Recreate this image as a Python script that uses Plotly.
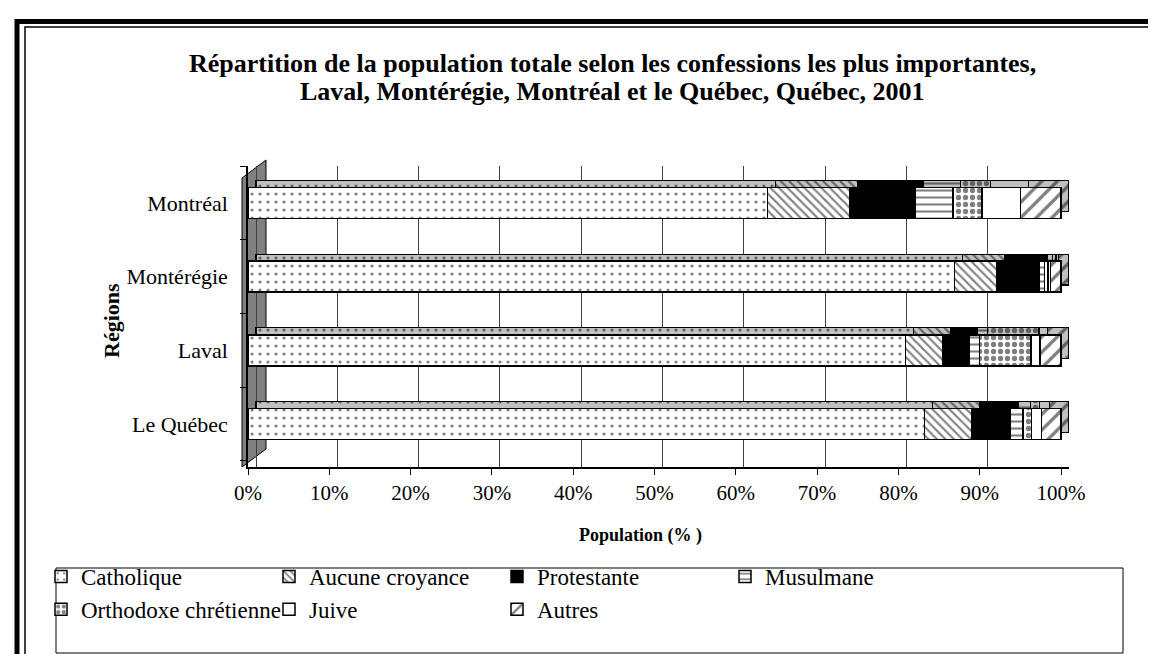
import plotly.graph_objects as go

regions = ["Le Québec", "Laval", "Montérégie", "Montréal"]
series_names = ["Catholique", "Aucune croyance", "Protestante", "Musulmane",
                "Orthodoxe chrétienne", "Juive", "Autres"]
catholique = [83.2, 80.9, 86.9, 63.9]
aucune = [5.8, 4.5, 5.2, 10.1]
protestante = [4.8, 3.3, 5.2, 8.1]
musulmane = [1.5, 1.3, 0.7, 4.6]
orthodoxe = [1.1, 6.3, 0.4, 3.6]
juive = [1.2, 1.1, 0.3, 4.7]
autres = [2.4, 2.6, 1.3, 5.0]
values = [catholique, aucune, protestante, musulmane, orthodoxe, juive, autres]
x_ticks = [0, 10, 20, 30, 40, 50, 60, 70, 80, 90, 100]
x_ticklabels = [f"{t}%" for t in x_ticks]
title_lines = ["Répartition de la population totale selon les confessions les plus importantes,",
               "Laval, Montérégie, Montréal et le Québec, Québec, 2001"]

styles = [
    dict(shape=".", size=8, solidity=0.12),
    dict(shape="\\", size=6, solidity=0.35),
    dict(shape=""),
    dict(shape="-", size=7, solidity=0.3),
    dict(shape=".", size=7, solidity=0.45),
    dict(shape=""),
    dict(shape="/", size=11, solidity=0.3),
]
colors = ["white", "white", "black", "white", "white", "white", "white"]
top_colors = ["#c0c0c0", "#c0c0c0", "black", "#c0c0c0", "#c0c0c0", "#c0c0c0", "#c0c0c0"]

FONT = "Liberation Serif"
fig = go.Figure()

# depth faces (drawn first, on the back axes, shifted up/right)
for name, vals, st, col in zip(series_names, values, styles, top_colors):
    pat = dict(st, fgcolor="black", bgcolor=col) if st["shape"] else dict(shape="")
    fig.add_trace(go.Bar(
        y=regions, x=vals, name=name, orientation="h", showlegend=False, hoverinfo="skip",
        marker=dict(color=col, pattern=pat, line=dict(color="black", width=1.2)),
        width=0.42, xaxis="x", yaxis="y",
    ))

# front faces
for name, vals, st, col in zip(series_names, values, styles, colors):
    pat = dict(st, fgcolor="black", bgcolor="white") if st["shape"] else dict(shape="")
    fig.add_trace(go.Bar(
        y=regions, x=vals, name=name, orientation="h",
        marker=dict(color=col, pattern=pat, line=dict(color="black", width=1.5)),
        width=0.42, xaxis="x2", yaxis="y2",
    ))

# pixel geometry (plot area x 240..1061, y 158..459)
L, R, T, B = 240, 1061, 158, 459
W, H = 1156, 654
X0, X100 = 240, 1053          # front-face 0% and 100%
DX, DY = 8, 7                 # depth shift in px
ppu = (X100 - X0) / 100.0
cat_px = 73.7
def px(p):
    return (p - L) / (R - L)
def py(p):
    return (B - p) / (B - T)

y_front = [-0.583, 3.5]
y_back = [y_front[0] - DY / cat_px, y_front[1] - DY / cat_px]
x_front = [0, (R - L) / ppu]
x_back = [-DX / ppu, (R - L) / ppu - DX / ppu]

shapes = [
    dict(type="rect", xref="paper", yref="paper", x0=px(9), x1=px(1153), y0=py(662), y1=py(13.5),
         line=dict(color="black", width=5), layer="below"),
    dict(type="rect", xref="paper", yref="paper", x0=px(17), x1=px(1146), y0=py(651), y1=py(19),
         line=dict(color="black", width=1.5), layer="below"),
    dict(type="rect", xref="paper", yref="paper", x0=px(48), x1=px(1115), y0=py(645), y1=py(560),
         line=dict(color="black", width=1), layer="below"),
    dict(type="path", xref="paper", yref="paper",
         path=f"M {px(234)},{py(459)} L {px(258)},{py(441)} L {px(258)},{py(152)} L {px(234)},{py(170)} Z",
         fillcolor="#808080", line=dict(color="black", width=1), layer="below"),
]

annotations = [
    dict(text=f"<b>{title_lines[0]}</b>", xref="paper", yref="paper", x=px(604), y=py(55),
         xanchor="center", yanchor="middle", showarrow=False, font=dict(family=FONT, size=26)),
    dict(text=f"<b>{title_lines[1]}</b>", xref="paper", yref="paper", x=px(604), y=py(83),
         xanchor="center", yanchor="middle", showarrow=False, font=dict(family=FONT, size=26)),
    dict(text="<b>Population (% )</b>", xref="paper", yref="paper", x=px(632), y=py(527),
         xanchor="center", yanchor="middle", showarrow=False, font=dict(family=FONT, size=18)),
    dict(text="<b>Régions</b>", xref="paper", yref="paper", x=px(103), y=py(313),
         xanchor="center", yanchor="middle", showarrow=False, textangle=-90,
         font=dict(family=FONT, size=22)),
]

fig.update_layout(
    width=W, height=H,
    barmode="stack",
    paper_bgcolor="white", plot_bgcolor="rgba(0,0,0,0)",
    margin=dict(l=L, r=W - R, t=T, b=H - B, autoexpand=False),
    font=dict(family=FONT, size=20, color="black"),
    xaxis=dict(
        range=x_back, tickvals=x_ticks, showticklabels=False, ticks="",
        showgrid=True, gridcolor="#404040", gridwidth=1, showline=False, zeroline=False,
    ),
    yaxis=dict(
        categoryorder="array", categoryarray=regions, range=y_back,
        showticklabels=False, ticks="", showgrid=False, showline=False,
    ),
    xaxis2=dict(
        overlaying="x", side="bottom", anchor="y2",
        range=x_front, tickvals=x_ticks, ticktext=x_ticklabels,
        showgrid=False, showline=True, linecolor="black", linewidth=1.5,
        ticks="outside", ticklen=6, tickcolor="black",
        tickfont=dict(family=FONT, size=21), zeroline=False,
    ),
    yaxis2=dict(
        overlaying="y", side="left", anchor="x2",
        categoryorder="array", categoryarray=regions, range=y_front,
        showline=True, linecolor="black", linewidth=1.5,
        ticks="outside", ticklen=6, tickcolor="black", tickson="boundaries",
        tickfont=dict(family=FONT, size=22), ticklabelstandoff=14,
        showgrid=False,
    ),
    legend=dict(
        orientation="h", x=px(33), xanchor="left", y=py(547), yanchor="top",
        traceorder="normal", entrywidth=183, entrywidthmode="pixels",
        font=dict(family=FONT, size=23), bgcolor="rgba(0,0,0,0)",
        itemwidth=30, tracegroupgap=0,
    ),
    shapes=shapes,
    annotations=annotations,
)

fig.write_html("out.html")
